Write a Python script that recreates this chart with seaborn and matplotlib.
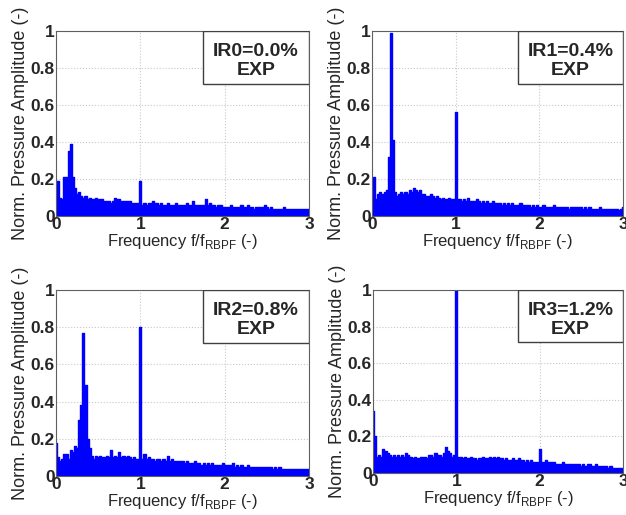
import numpy as np
import matplotlib
matplotlib.use('Agg')
import matplotlib.pyplot as plt
import seaborn as sns
from matplotlib.patches import Rectangle

# frequency axis f/f_RBPF, 0 .. 3 in steps of 0.025
freq = np.linspace(0, 3, 121)

# normalised pressure amplitude
amp_ir0 = [0.19, 0.19, 0.10, 0.09, 0.21, 0.21, 0.35, 0.39, 0.21, 0.15, 0.12, 0.13, 0.11, 0.10, 0.11, 0.09, 0.10, 0.09, 0.09, 0.10,
           0.09, 0.09, 0.09, 0.08, 0.08, 0.08, 0.07, 0.08, 0.10, 0.09, 0.09, 0.08, 0.08, 0.08, 0.08, 0.08, 0.07, 0.07, 0.07, 0.07,
           0.19, 0.06, 0.07, 0.06, 0.07, 0.07, 0.08, 0.07, 0.07, 0.06, 0.07, 0.06, 0.06, 0.07, 0.06, 0.06, 0.06, 0.07, 0.06, 0.06,
           0.06, 0.06, 0.07, 0.06, 0.06, 0.08, 0.06, 0.06, 0.06, 0.06, 0.06, 0.09, 0.06, 0.07, 0.06, 0.06, 0.05, 0.06, 0.06, 0.05,
           0.05, 0.05, 0.05, 0.06, 0.05, 0.05, 0.05, 0.05, 0.06, 0.05, 0.05, 0.06, 0.05, 0.05, 0.04, 0.05, 0.05, 0.05, 0.05, 0.06,
           0.05, 0.04, 0.05, 0.04, 0.04, 0.04, 0.04, 0.04, 0.05, 0.04, 0.04, 0.04, 0.04, 0.04, 0.04, 0.04, 0.04, 0.04, 0.04, 0.04, 0.04]

amp_ir1 = [0.20, 0.21, 0.09, 0.12, 0.13, 0.12, 0.13, 0.14, 0.32, 0.99, 0.41, 0.13, 0.11, 0.12, 0.13, 0.12, 0.13, 0.12, 0.14, 0.13,
           0.15, 0.14, 0.13, 0.14, 0.12, 0.12, 0.11, 0.11, 0.12, 0.11, 0.10, 0.11, 0.10, 0.09, 0.10, 0.09, 0.09, 0.10, 0.09, 0.09,
           0.56, 0.09, 0.09, 0.08, 0.09, 0.08, 0.10, 0.08, 0.08, 0.08, 0.09, 0.08, 0.07, 0.08, 0.07, 0.08, 0.07, 0.07, 0.08, 0.07,
           0.07, 0.07, 0.06, 0.07, 0.06, 0.07, 0.06, 0.07, 0.06, 0.06, 0.06, 0.07, 0.06, 0.06, 0.06, 0.06, 0.05, 0.06, 0.05, 0.06,
           0.05, 0.05, 0.06, 0.05, 0.05, 0.05, 0.05, 0.06, 0.05, 0.05, 0.05, 0.05, 0.05, 0.05, 0.04, 0.05, 0.05, 0.05, 0.05, 0.05,
           0.05, 0.04, 0.05, 0.04, 0.05, 0.04, 0.04, 0.04, 0.04, 0.05, 0.04, 0.04, 0.04, 0.04, 0.04, 0.04, 0.04, 0.04, 0.03, 0.04, 0.05]

amp_ir2 = [0.18, 0.10, 0.08, 0.09, 0.12, 0.12, 0.09, 0.14, 0.13, 0.16, 0.15, 0.30, 0.38, 0.77, 0.49, 0.20, 0.15, 0.11, 0.09, 0.11,
           0.10, 0.11, 0.10, 0.10, 0.11, 0.10, 0.14, 0.10, 0.11, 0.10, 0.13, 0.10, 0.11, 0.10, 0.11, 0.10, 0.09, 0.10, 0.09, 0.09,
           0.80, 0.09, 0.12, 0.09, 0.10, 0.09, 0.09, 0.08, 0.09, 0.09, 0.08, 0.09, 0.08, 0.11, 0.08, 0.09, 0.08, 0.08, 0.08, 0.08,
           0.08, 0.07, 0.08, 0.07, 0.07, 0.07, 0.08, 0.07, 0.07, 0.06, 0.07, 0.06, 0.07, 0.06, 0.07, 0.06, 0.06, 0.06, 0.06, 0.07,
           0.06, 0.06, 0.06, 0.06, 0.07, 0.05, 0.06, 0.05, 0.06, 0.05, 0.05, 0.06, 0.05, 0.05, 0.05, 0.05, 0.05, 0.05, 0.05, 0.05,
           0.05, 0.05, 0.05, 0.04, 0.05, 0.04, 0.05, 0.04, 0.04, 0.04, 0.04, 0.04, 0.04, 0.04, 0.04, 0.04, 0.04, 0.04, 0.04, 0.04, 0.04]

amp_ir3 = [0.34, 0.20, 0.09, 0.10, 0.09, 0.13, 0.12, 0.11, 0.10, 0.09, 0.10, 0.09, 0.10, 0.09, 0.10, 0.09, 0.11, 0.10, 0.09, 0.08,
           0.09, 0.08, 0.08, 0.09, 0.09, 0.09, 0.08, 0.10, 0.10, 0.09, 0.11, 0.10, 0.10, 0.09, 0.11, 0.14, 0.12, 0.11, 0.09, 0.10,
           1.00, 0.09, 0.09, 0.08, 0.09, 0.08, 0.08, 0.09, 0.08, 0.08, 0.07, 0.08, 0.08, 0.09, 0.08, 0.08, 0.09, 0.08, 0.09, 0.08,
           0.09, 0.08, 0.08, 0.07, 0.08, 0.07, 0.07, 0.08, 0.07, 0.07, 0.08, 0.07, 0.07, 0.06, 0.07, 0.06, 0.07, 0.06, 0.06, 0.06,
           0.13, 0.06, 0.06, 0.07, 0.06, 0.06, 0.06, 0.06, 0.05, 0.05, 0.05, 0.06, 0.05, 0.05, 0.05, 0.05, 0.05, 0.05, 0.05, 0.05,
           0.04, 0.05, 0.04, 0.05, 0.05, 0.04, 0.04, 0.05, 0.04, 0.04, 0.04, 0.04, 0.04, 0.03, 0.04, 0.03, 0.03, 0.03, 0.03, 0.03, 0.03]

labels = ['IR0=0.0%', 'IR1=0.4%', 'IR2=0.8%', 'IR3=1.2%']
series = [amp_ir0, amp_ir1, amp_ir2, amp_ir3]

sns.set_style('white')
plt.rcParams['font.family'] = ['Liberation Sans', 'DejaVu Sans']
plt.rcParams['mathtext.fontset'] = 'custom'
plt.rcParams['mathtext.rm'] = 'Liberation Sans'

fig = plt.figure(figsize=(6.26, 5.15), dpi=100)

# axes boxes in figure pixels: left, top, right, bottom
boxes = [(56, 31, 309, 216), (372, 31, 623, 216),
         (56, 290, 309, 476), (373, 290, 623, 473)]
W, H = 626, 515

for (l, t, r, b), amp, lab in zip(boxes, series, labels):
    ax = fig.add_axes([l / W, 1 - b / H, (r - l) / W, (b - t) / H])
    ax.fill_between(freq, amp, step='mid', color='#0000ff', lw=0)
    sns.lineplot(x=freq, y=amp, ax=ax, color='#0000ff', lw=1,
                 drawstyle='steps-mid')
    ax.set_xlim(0, 3)
    ax.set_ylim(0, 1)
    ax.set_xticks([0, 1, 2, 3])
    ax.set_yticks([0, 0.2, 0.4, 0.6, 0.8, 1])
    ax.set_xticklabels(['0', '1', '2', '3'])
    ax.set_yticklabels(['0', '0.2', '0.4', '0.6', '0.8', '1'])
    ax.tick_params(length=0, pad=1, labelsize=12.5)
    for tl in ax.get_xticklabels() + ax.get_yticklabels():
        tl.set_fontweight('bold')
    ax.grid(True, color='#c8c8c8', ls=':', lw=0.8)
    ax.set_axisbelow(True)
    for sp in ax.spines.values():
        sp.set_color('#606060')
        sp.set_linewidth(0.8)
    ax.set_xlabel(r'Frequency f/f$_{\mathregular{RBPF}}$ (-)', fontsize=12, labelpad=0)
    ax.set_ylabel('Norm. Pressure Amplitude (-)', fontsize=13, labelpad=1)

    ax.add_patch(Rectangle((0.58, 0.715), 0.42, 0.285, transform=ax.transAxes,
                           facecolor='white', edgecolor='#404040', lw=1, zorder=5))
    ax.text(0.79, 0.89, lab, transform=ax.transAxes, ha='center', va='center',
            fontsize=14, fontweight='bold', zorder=6)
    ax.text(0.79, 0.785, 'EXP', transform=ax.transAxes, ha='center', va='center',
            fontsize=14, fontweight='bold', zorder=6)

fig.savefig('out.png', dpi=100)
